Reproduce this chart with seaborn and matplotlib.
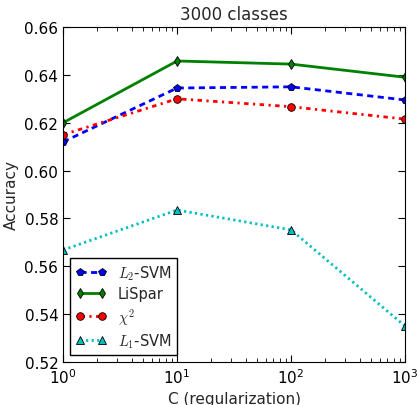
import pandas as pd
import matplotlib
matplotlib.use("Agg")
import matplotlib.pyplot as plt
import seaborn as sns

# Values
C = [1, 10, 100, 1000]
l2_svm = [0.612, 0.6345, 0.635, 0.6295]
lispar = [0.620, 0.6458, 0.6445, 0.639]
chi2 = [0.615, 0.630, 0.6267, 0.6215]
l1_svm = [0.5668, 0.5835, 0.5752, 0.535]

series = [
    (r"$L_2$-SVM", l2_svm, "blue", (0, (2.2, 1.6)), "p"),
    ("LiSpar", lispar, "green", "-", "d"),
    (r"$\chi^2$", chi2, "red", (0, (1.6, 1.6, 0.8, 1.6)), "o"),
    (r"$L_1$-SVM", l1_svm, "c", (0, (0.8, 1.2)), "^"),
]

sns.set_style("ticks")
plt.rcParams.update({
    "font.family": ["DejaVu Sans"],
    "mathtext.fontset": "cm",
    "xtick.direction": "in",
    "ytick.direction": "in",
    "xtick.top": True,
    "ytick.right": True,
    "axes.edgecolor": "black",
    "xtick.color": "black",
    "ytick.color": "black",
})

fig = plt.figure(figsize=(4.18, 4.06), dpi=100)
ax = fig.add_axes([0.151, 0.106, 0.818, 0.825])

for label, vals, color, ls, marker in series:
    df = pd.DataFrame({"C": C, "acc": vals})
    sns.lineplot(data=df, x="C", y="acc", ax=ax, color=color, linestyle=ls,
                 marker=marker, markersize=5.5, markeredgecolor="black",
                 markeredgewidth=0.6, linewidth=2, label=label)

ax.set_xscale("log")
ax.set_xlim(1, 1000)
ax.set_ylim(0.52, 0.66)
ax.set_yticks([0.52, 0.54, 0.56, 0.58, 0.60, 0.62, 0.64, 0.66])
ax.yaxis.set_major_formatter(matplotlib.ticker.FormatStrFormatter("%.2f"))
ax.tick_params(which="major", length=5, labelsize=11)
ax.tick_params(which="minor", length=3)
ax.set_xlabel("C (regularization)", fontsize=11)
ax.set_ylabel("Accuracy", fontsize=11)
ax.set_title("3000 classes", fontsize=12)

leg = ax.legend(loc="lower left", numpoints=2, fancybox=False, framealpha=1,
                edgecolor="black", fontsize=10.5, handlelength=2.1,
                labelspacing=0.3, borderpad=0.35, borderaxespad=0.5)
leg.get_frame().set_linewidth(1)

plt.savefig("out.png", dpi=100)
plt.close()
